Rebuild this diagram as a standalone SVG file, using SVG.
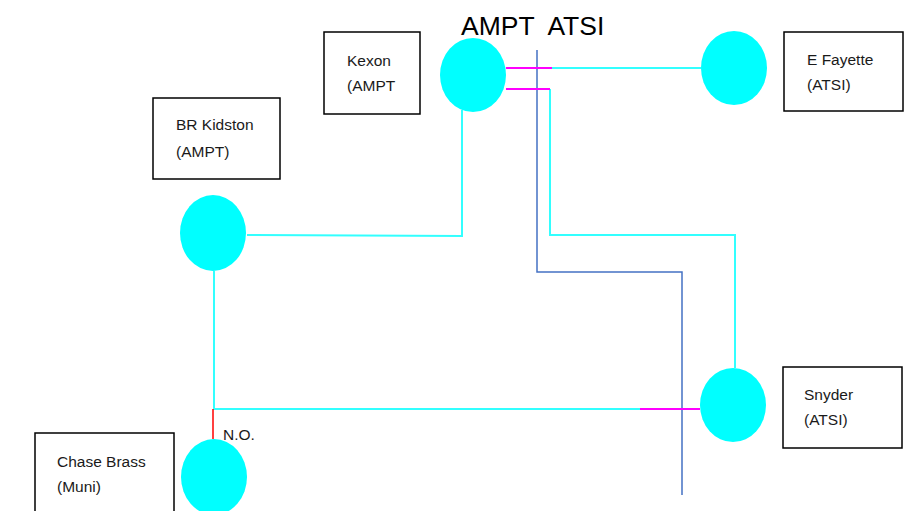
<svg xmlns="http://www.w3.org/2000/svg" width="920" height="511" viewBox="0 0 920 511">
<style>
.box{fill:#fff;stroke:#000;stroke-width:1.5}
.node{fill:#00ffff}
.lbl{font-family:"Liberation Sans",Arial,sans-serif;font-size:15.5px;fill:#1a1a1a}
.c{fill:none;stroke:#33ffff;stroke-width:2}
.m{fill:none;stroke:#ff00ff;stroke-width:2}
.b{fill:none;stroke:#4472c4;stroke-width:1.5}
.r{fill:none;stroke:#ff0000;stroke-width:1.5}
</style>
<rect width="920" height="511" fill="#fff"/>
<text x="461" y="35" xml:space="preserve" font-family="'Liberation Sans',Arial,sans-serif" font-size="26.5" fill="#000">AMPT  ATSI</text>
<g id="connectors">
<path class="b" d="M537,50 V272 H682 V495"/>
<path class="c" d="M552,68 H701"/>
<path class="m" d="M506,68 H552"/>
<path class="c" d="M550,89 V235 H735 V368"/>
<path class="m" d="M506,89 H550"/>
<path class="c" d="M247,235 L462,236 V110"/>
<path class="c" d="M214,271 V409 H640"/>
<path class="m" d="M640,409 H700"/>
<path class="r" d="M213,409 V439"/>
<text x="223" y="440" class="lbl">N.O.</text>
</g>
<g id="kexon">
<rect class="box" x="324" y="32" width="96" height="82"/>
<text class="lbl" x="347" y="66">Kexon</text>
<text class="lbl" x="347" y="91">(AMPT</text>
<ellipse class="node" cx="473" cy="75" rx="33" ry="37"/>
</g>
<g id="efayette">
<rect class="box" x="784" y="32" width="119" height="79"/>
<text class="lbl" x="807" y="65">E Fayette</text>
<text class="lbl" x="807" y="90">(ATSI)</text>
<ellipse class="node" cx="734" cy="68" rx="33" ry="37"/>
</g>
<g id="brkidston">
<rect class="box" x="153" y="98" width="127" height="81"/>
<text class="lbl" x="176" y="130">BR Kidston</text>
<text class="lbl" x="176" y="157">(AMPT)</text>
<ellipse class="node" cx="213" cy="233" rx="33" ry="38"/>
</g>
<g id="snyder">
<rect class="box" x="783" y="367" width="119" height="81"/>
<text class="lbl" x="804" y="400">Snyder</text>
<text class="lbl" x="804" y="425">(ATSI)</text>
<ellipse class="node" cx="733" cy="405" rx="33" ry="37"/>
</g>
<g id="chasebrass">
<rect class="box" x="35" y="433" width="139" height="90"/>
<text class="lbl" x="57" y="467">Chase Brass</text>
<text class="lbl" x="57" y="492">(Muni)</text>
<ellipse class="node" cx="214" cy="477" rx="33" ry="38"/>
</g>
</svg>
